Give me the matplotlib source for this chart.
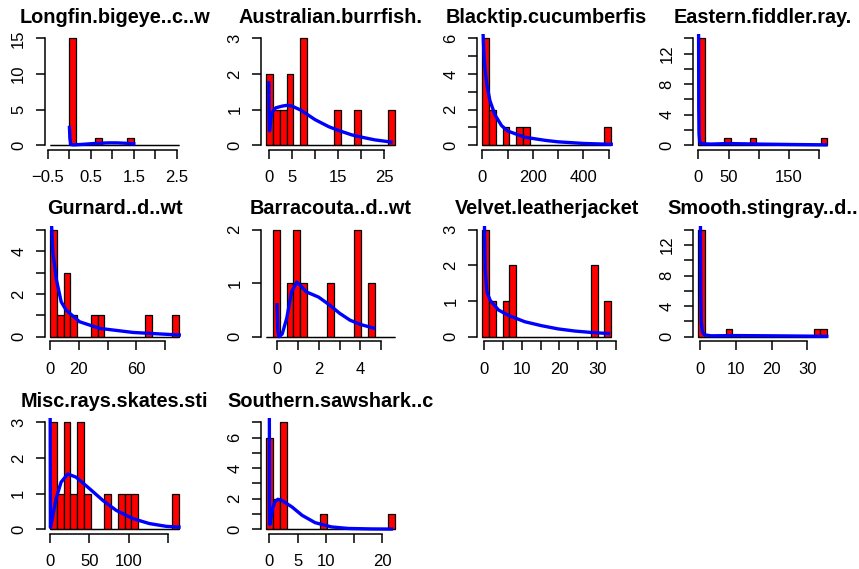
import matplotlib.pyplot as plt
import numpy as np

plt.rcParams['font.family'] = ['Liberation Sans', 'DejaVu Sans']

titles = ['Longfin.bigeye..c..w', 'Australian.burrfish.', 'Blacktip.cucumberfis',
          'Eastern.fiddler.ray.', 'Gurnard..d..wt', 'Barracouta..d..wt',
          'Velvet.leatherjacket', 'Smooth.stingray..d..', 'Misc.rays.skates.sti',
          'Southern.sawshark..c']

# first and last break of each histogram (bins are equal width)
bin_range = [(-0.45, 2.55), (-0.56, 27.37), (0, 509.2), (0, 214), (0, 89.7),
             (-0.515, 5.66), (-0.5, 33.7), (-0.5, 35.6), (0, 163.8), (-0.55, 22.25)]

counts = [
    [0, 0, 0, 15, 0, 0, 0, 1, 0, 0, 0, 0, 1, 0, 0, 0, 0, 0, 0, 0],
    [2, 1, 1, 2, 0, 3, 0, 0, 0, 0, 1, 0, 0, 1, 0, 0, 0, 0, 1],
    [6, 2, 0, 1, 0, 1, 1, 0, 0, 0, 0, 0, 0, 0, 0, 0, 0, 0, 1],
    [14, 0, 0, 0, 1, 0, 0, 0, 1, 0, 0, 0, 0, 0, 0, 0, 0, 0, 0, 1],
    [5, 1, 3, 1, 0, 0, 1, 1, 0, 0, 0, 0, 0, 0, 1, 0, 0, 0, 1],
    [0, 2, 0, 1, 2, 1, 0, 0, 0, 1, 0, 0, 0, 2, 0, 1, 0, 0, 0],
    [3, 1, 0, 1, 2, 0, 0, 0, 0, 0, 0, 0, 0, 0, 0, 0, 2, 0, 1],
    [14, 0, 0, 0, 1, 0, 0, 0, 0, 0, 0, 0, 0, 0, 0, 0, 0, 1, 1],
    [3, 1, 3, 1, 3, 1, 0, 0, 1, 0, 1, 1, 1, 0, 0, 0, 0, 0, 1],
    [6, 2, 7, 0, 0, 0, 0, 0, 1, 0, 0, 0, 0, 0, 0, 0, 0, 0, 1],
]

# fitted density curves (scaled to counts)
curve_x = [
    [0.0, 0.01, 0.03, 0.1, 0.3, 0.6, 0.9, 1.1, 1.3, 1.5],
    [0.0, 0.05, 0.15, 0.6, 1.5, 3, 4, 5, 7, 10, 13, 15, 18, 20, 23, 26.5],
    [1, 3, 6, 10, 17, 30, 50, 76, 100, 167, 250, 300, 400, 510],
    [0.2, 0.5, 1, 2, 5, 20, 50, 100, 150, 212],
    [0.5, 1, 1.9, 4.2, 7.7, 11.2, 20.5, 34.5, 57.8, 90],
    [0, 0.04, 0.1, 0.25, 0.47, 0.7, 0.95, 1.15, 1.4, 2.0, 2.5, 3.0, 3.5, 4.0, 4.65],
    [0.02, 0.1, 0.26, 0.7, 1.58, 3.8, 6.4, 10.8, 15.2, 19.6, 24, 28.4, 33],
    [0.05, 0.15, 0.3, 0.6, 1.2, 3, 10, 20, 30, 35.5],
    [0, 0.3, 1, 3.4, 7.6, 13.9, 22.4, 33, 50, 67, 84, 105, 126, 148, 164],
    [0.0, 0.03, 0.08, 0.18, 0.59, 1.0, 1.5, 2.2, 4, 5.8, 8.1, 11, 14, 18, 21.6],
]
curve_y = [
    [2.5, 1.0, 0.1, 0.05, 0.12, 0.25, 0.33, 0.33, 0.28, 0.2],
    [1.75, 0.9, 0.4, 0.9, 1.05, 1.1, 1.12, 1.1, 0.98, 0.72, 0.52, 0.42, 0.29, 0.23, 0.15, 0.09],
    [7.5, 6.2, 5.2, 4.4, 3.45, 2.5, 1.7, 1.1, 0.8, 0.45, 0.27, 0.19, 0.1, 0.05],
    [16, 5, 1.5, 0.5, 0.2, 0.15, 0.22, 0.15, 0.1, 0.05],
    [6, 5.2, 3.96, 2.72, 1.63, 1.24, 0.7, 0.39, 0.2, 0.08],
    [0.6, 0.1, 0.0, 0.05, 0.35, 0.84, 1.02, 0.95, 0.84, 0.74, 0.6, 0.44, 0.31, 0.23, 0.16],
    [3.5, 2.8, 1.91, 1.26, 1.02, 0.75, 0.6, 0.42, 0.31, 0.22, 0.16, 0.12, 0.09],
    [16, 6, 2, 0.6, 0.25, 0.12, 0.15, 0.12, 0.08, 0.05],
    [3.6, 0.05, 0.1, 0.39, 0.86, 1.32, 1.55, 1.46, 1.14, 0.81, 0.53, 0.3, 0.16, 0.08, 0.06],
    [7.6, 2.0, 0.3, 0.5, 1.35, 1.8, 1.96, 1.89, 1.46, 0.91, 0.43, 0.15, 0.05, 0.02, 0.01],
]

xticks = [
    [-0.5, 0, 0.5, 1, 1.5, 2, 2.5], [0, 5, 10, 15, 20, 25], [0, 100, 200, 300, 400, 500],
    [0, 50, 100, 150, 200], [0, 20, 40, 60, 80], [0, 1, 2, 3, 4, 5],
    [0, 5, 10, 15, 20, 25, 30, 35], [0, 10, 20, 30], [0, 50, 100, 150], [0, 5, 10, 15, 20],
]
xlabels = [
    ['\u22120.5', '', '0.5', '', '1.5', '', '2.5'], ['0', '5', '', '15', '', '25'],
    ['0', '', '200', '', '400', ''], ['0', '50', '', '150', ''], ['0', '20', '', '60', ''],
    ['0', '', '2', '', '4', ''], ['0', '', '10', '', '20', '', '30', ''],
    ['0', '10', '20', '30'], ['0', '50', '100', ''], ['0', '5', '10', '', '20'],
]
yticks = [
    [0, 5, 10, 15], [0, 1, 2, 3], [0, 1, 2, 3, 4, 5, 6], list(range(0, 15, 2)),
    [0, 1, 2, 3, 4, 5], [0, 1, 2], [0, 1, 2, 3], list(range(0, 15, 2)),
    [0, 1, 2, 3], [0, 1, 2, 3, 4, 5, 6, 7],
]
ylabels = [
    ['0', '5', '10', '15'], ['0', '1', '2', '3'], ['0', '', '2', '', '4', '', '6'],
    ['0', '', '4', '', '8', '', '12', ''], ['0', '', '2', '', '4', ''], ['0', '1', '2'],
    ['0', '1', '2', '3'], ['0', '', '4', '', '8', '', '12', ''], ['0', '1', '2', '3'],
    ['0', '', '2', '', '4', '', '6', ''],
]

W, H = 859, 569
fig = plt.figure(figsize=(W / 100, H / 100), dpi=100)
row_top = [34, 225.5, 418]

for i in range(len(titles)):
    r, c = divmod(i, 4)
    left = 45 + 216.1 * c
    ax = fig.add_axes([left / W, 1 - (row_top[r] + 115.5) / H, 139 / W, 115.5 / H])

    lo, hi = bin_range[i]
    edges = np.linspace(lo, hi, len(counts[i]) + 1)
    # empty bins show up as a flat line along zero, like R's hist()
    ax.hlines(0, lo, hi, color='black', lw=0.9)
    ax.bar(edges[:-1], counts[i], width=np.diff(edges), align='edge',
           color='red', edgecolor='black', linewidth=0.9)
    ax.plot(curve_x[i], curve_y[i], color='blue', lw=2.4)

    ax.set_xlim(lo - 0.04 * (hi - lo), hi + 0.04 * (hi - lo))
    m = max(counts[i])
    ax.set_ylim(-0.04 * m, 1.04 * m)

    for s in ['top', 'right']:
        ax.spines[s].set_visible(False)
    ax.spines['left'].set_bounds(yticks[i][0], yticks[i][-1])
    ax.spines['bottom'].set_bounds(xticks[i][0], xticks[i][-1])
    for s in ['left', 'bottom']:
        ax.spines[s].set_linewidth(1.1)

    ax.set_xticks(xticks[i], xlabels[i])
    ax.set_yticks(yticks[i], ylabels[i])
    ax.tick_params(length=6.5, width=1.1, labelsize=12)
    ax.tick_params(axis='x', pad=8.5)
    ax.tick_params(axis='y', pad=7, labelrotation=90)
    for lbl in ax.get_yticklabels():
        lbl.set_va('center')

    ax.set_title(titles[i], fontsize=14.3, fontweight='bold', pad=8)

fig.savefig('out.png', dpi=100)
